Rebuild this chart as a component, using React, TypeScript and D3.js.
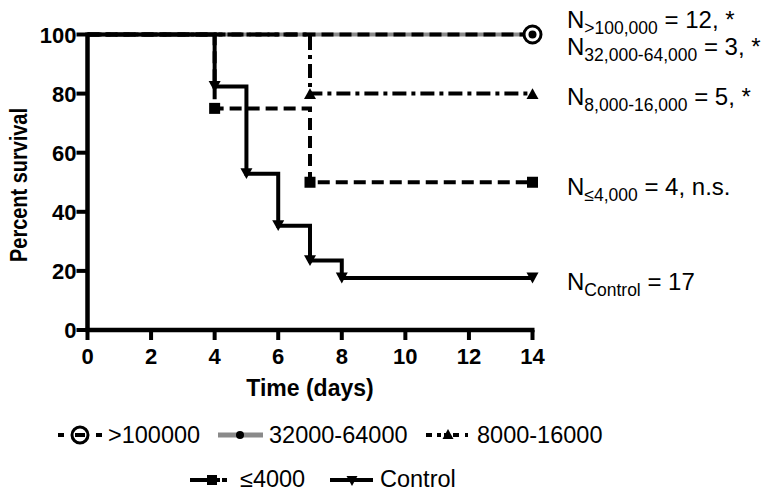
import React from "react";
import * as d3 from "d3";

const xTicks = [0, 2, 4, 6, 8, 10, 12, 14];
const yTicks = [0, 20, 40, 60, 80, 100];

const controlDays = [0, 4, 5, 6, 7, 8, 14];
const controlSurv = [100, 82.4, 52.9, 35.3, 23.5, 17.6, 17.6];
const le4000Days = [0, 4, 7, 14];
const le4000Surv = [100, 75, 50, 50];
const r8000Days = [0, 7, 14];
const r8000Surv = [100, 80, 80];
const r32000Days = [0, 14];
const r32000Surv = [100, 100];
const gt100000Days = [0, 14];
const gt100000Surv = [100, 100];

const legendRow1 = [">100000", "32000-64000", "8000-16000"];
const legendRow2 = ["\u22644000", "Control"];

const FONT = "'Liberation Sans', Arial, Helvetica, sans-serif";

const W = 780;
const H = 497;

export default function App() {
  const x = d3.scaleLinear().domain([0, 14]).range([87.5, 532.5]);
  const y = d3.scaleLinear().domain([0, 100]).range([330, 34.5]);

  const line = d3
    .line<[number, number]>()
    .x((d) => x(d[0]))
    .y((d) => y(d[1]))
    .curve(d3.curveStepAfter);

  const pts = (days: number[], surv: number[]) =>
    days.map((d, i) => [d, surv[i]] as [number, number]);

  const tri = (cx: number, cy: number, s: number, down: boolean) => {
    const h = s * 0.9;
    if (down)
      return `M${cx - s / 2},${cy - h / 2}L${cx + s / 2},${cy - h / 2}L${cx},${cy + h / 2}Z`;
    return `M${cx - s / 2},${cy + h / 2}L${cx + s / 2},${cy + h / 2}L${cx},${cy - h / 2}Z`;
  };

  const control = pts(controlDays, controlSurv);
  const le4000 = pts(le4000Days, le4000Surv);
  const r8000 = pts(r8000Days, r8000Surv);
  const r32000 = pts(r32000Days, r32000Surv);
  const gt100000 = pts(gt100000Days, gt100000Surv);

  const labelX = 567;
  const subDy = 6;
  const mainFs = 24;
  const subFs = 17.5;

  return (
    <svg
      width={W}
      height={H}
      style={{ position: "absolute", left: 0, top: 0, background: "#fff" }}
      fontFamily={FONT}
    >
      <rect width={W} height={H} fill="#fff" />
      {/* series */}
      <path d={line(r32000) || ""} fill="none" stroke="#8a8a8a" strokeWidth={4} />
      <path d={line(gt100000) || ""} fill="none" stroke="#000" strokeWidth={4} strokeDasharray="12 6" />
      <path d={line(r8000) || ""} fill="none" stroke="#000" strokeWidth={4} strokeDasharray="14 5 4 5" />
      <path d={line(le4000) || ""} fill="none" stroke="#000" strokeWidth={4} strokeDasharray="12 6" />
      <path d={line(control) || ""} fill="none" stroke="#000" strokeWidth={4} />

      {/* markers */}
      {le4000.slice(1).map((d, i) => (
        <rect key={"s" + i} x={x(d[0]) - 5.5} y={y(d[1]) - 5.5} width={11} height={11} fill="#000" />
      ))}
      {r8000.slice(1).map((d, i) => (
        <path key={"u" + i} d={tri(x(d[0]), y(d[1]), 12, false)} fill="#000" />
      ))}
      {control.slice(1).map((d, i) => (
        <path key={"d" + i} d={tri(x(d[0]), y(d[1]), 12, true)} fill="#000" />
      ))}
      {r32000.slice(1).map((d, i) => (
        <circle key={"c" + i} cx={x(d[0])} cy={y(d[1])} r={4} fill="#000" />
      ))}
      {gt100000.slice(1).map((d, i) => (
        <g key={"g" + i}>
          <circle cx={x(d[0])} cy={y(d[1])} r={8.5} fill="#fff" stroke="#000" strokeWidth={3} />
          <circle cx={x(d[0])} cy={y(d[1])} r={4} fill="#000" />
        </g>
      ))}

      {/* axes */}
      <line x1={x(0)} x2={x(0)} y1={y(100) - 2} y2={y(0) + 2} stroke="#000" strokeWidth={4.5} />
      <line x1={x(0) - 2} x2={x(14) + 2} y1={y(0)} y2={y(0)} stroke="#000" strokeWidth={4.5} />
      {yTicks.map((t) => (
        <g key={"yt" + t}>
          <line x1={x(0) - 11} x2={x(0)} y1={y(t)} y2={y(t)} stroke="#000" strokeWidth={4} />
          <text x={x(0) - 11} y={y(t) + 8} textAnchor="end" fontSize={22} fontWeight="bold">
            {t}
          </text>
        </g>
      ))}
      {xTicks.map((t) => (
        <g key={"xt" + t}>
          <line x1={x(t)} x2={x(t)} y1={y(0)} y2={y(0) + 10} stroke="#000" strokeWidth={4} />
          <text x={x(t)} y={364} textAnchor="middle" fontSize={22} fontWeight="bold">
            {t}
          </text>
        </g>
      ))}
      <text x={310} y={396} textAnchor="middle" fontSize={23} fontWeight="bold">
        Time (days)
      </text>
      <text
        transform={`translate(27,185) rotate(-90)`}
        textAnchor="middle"
        fontSize={23}
        fontWeight="bold"
        textLength={154}
        lengthAdjust="spacingAndGlyphs"
      >
        Percent survival
      </text>

      {/* right labels */}
      <text x={labelX} y={28} fontSize={mainFs}>
        <tspan>N</tspan>
        <tspan fontSize={subFs} dy={subDy}>&gt;100,000</tspan>
        <tspan dy={-subDy}> = 12, *</tspan>
      </text>
      <text x={labelX} y={55} fontSize={mainFs}>
        <tspan>N</tspan>
        <tspan fontSize={subFs} dy={subDy}>32,000-64,000</tspan>
        <tspan dy={-subDy}> = 3, *</tspan>
      </text>
      <text x={labelX} y={105} fontSize={mainFs}>
        <tspan>N</tspan>
        <tspan fontSize={subFs} dy={subDy}>8,000-16,000</tspan>
        <tspan dy={-subDy}> = 5, *</tspan>
      </text>
      <text x={labelX} y={195} fontSize={mainFs}>
        <tspan>N</tspan>
        <tspan fontSize={subFs} dy={subDy}>{"\u2264"}4,000</tspan>
        <tspan dy={-subDy}> = 4, n.s.</tspan>
      </text>
      <text x={labelX} y={290} fontSize={mainFs}>
        <tspan>N</tspan>
        <tspan fontSize={subFs} dy={subDy}>Control</tspan>
        <tspan dy={-subDy}> = 17</tspan>
      </text>

      {/* legend row 1 */}
      <g>
        <line x1={58} x2={102} y1={435} y2={435} stroke="#000" strokeWidth={4} strokeDasharray="6 32 6" />
        <circle cx={80} cy={435} r={8} fill="#fff" stroke="#000" strokeWidth={3} />
        <line x1={75} x2={85} y1={435} y2={435} stroke="#000" strokeWidth={4} />
        <text x={108} y={443} fontSize={23.5}>{legendRow1[0]}</text>

        <line x1={218} x2={263} y1={435} y2={435} stroke="#8a8a8a" strokeWidth={5} />
        <circle cx={240} cy={435} r={4} fill="#000" />
        <text x={269} y={443} fontSize={23.5}>{legendRow1[1]}</text>

        <line x1={426} x2={468} y1={435} y2={435} stroke="#000" strokeWidth={4} strokeDasharray="6 5 4 3 4 5 6" />
        <path d={tri(448, 434, 11, false)} fill="#000" />
        <text x={477} y={443} fontSize={23.5}>{legendRow1[2]}</text>
      </g>
      {/* legend row 2 */}
      <g>
        <line x1={190} x2={227} y1={480} y2={480} stroke="#000" strokeWidth={4} strokeDasharray="30 2 5" />
        <rect x={207} y={475} width={10} height={10} fill="#000" />
        <text x={240} y={487} fontSize={23.5}>{legendRow2[0]}</text>

        <line x1={330} x2={373} y1={480} y2={480} stroke="#000" strokeWidth={4} />
        <path d={tri(352, 481, 11, true)} fill="#000" />
        <text x={380} y={487} fontSize={23.5}>{legendRow2[1]}</text>
      </g>
    </svg>
  );
}
